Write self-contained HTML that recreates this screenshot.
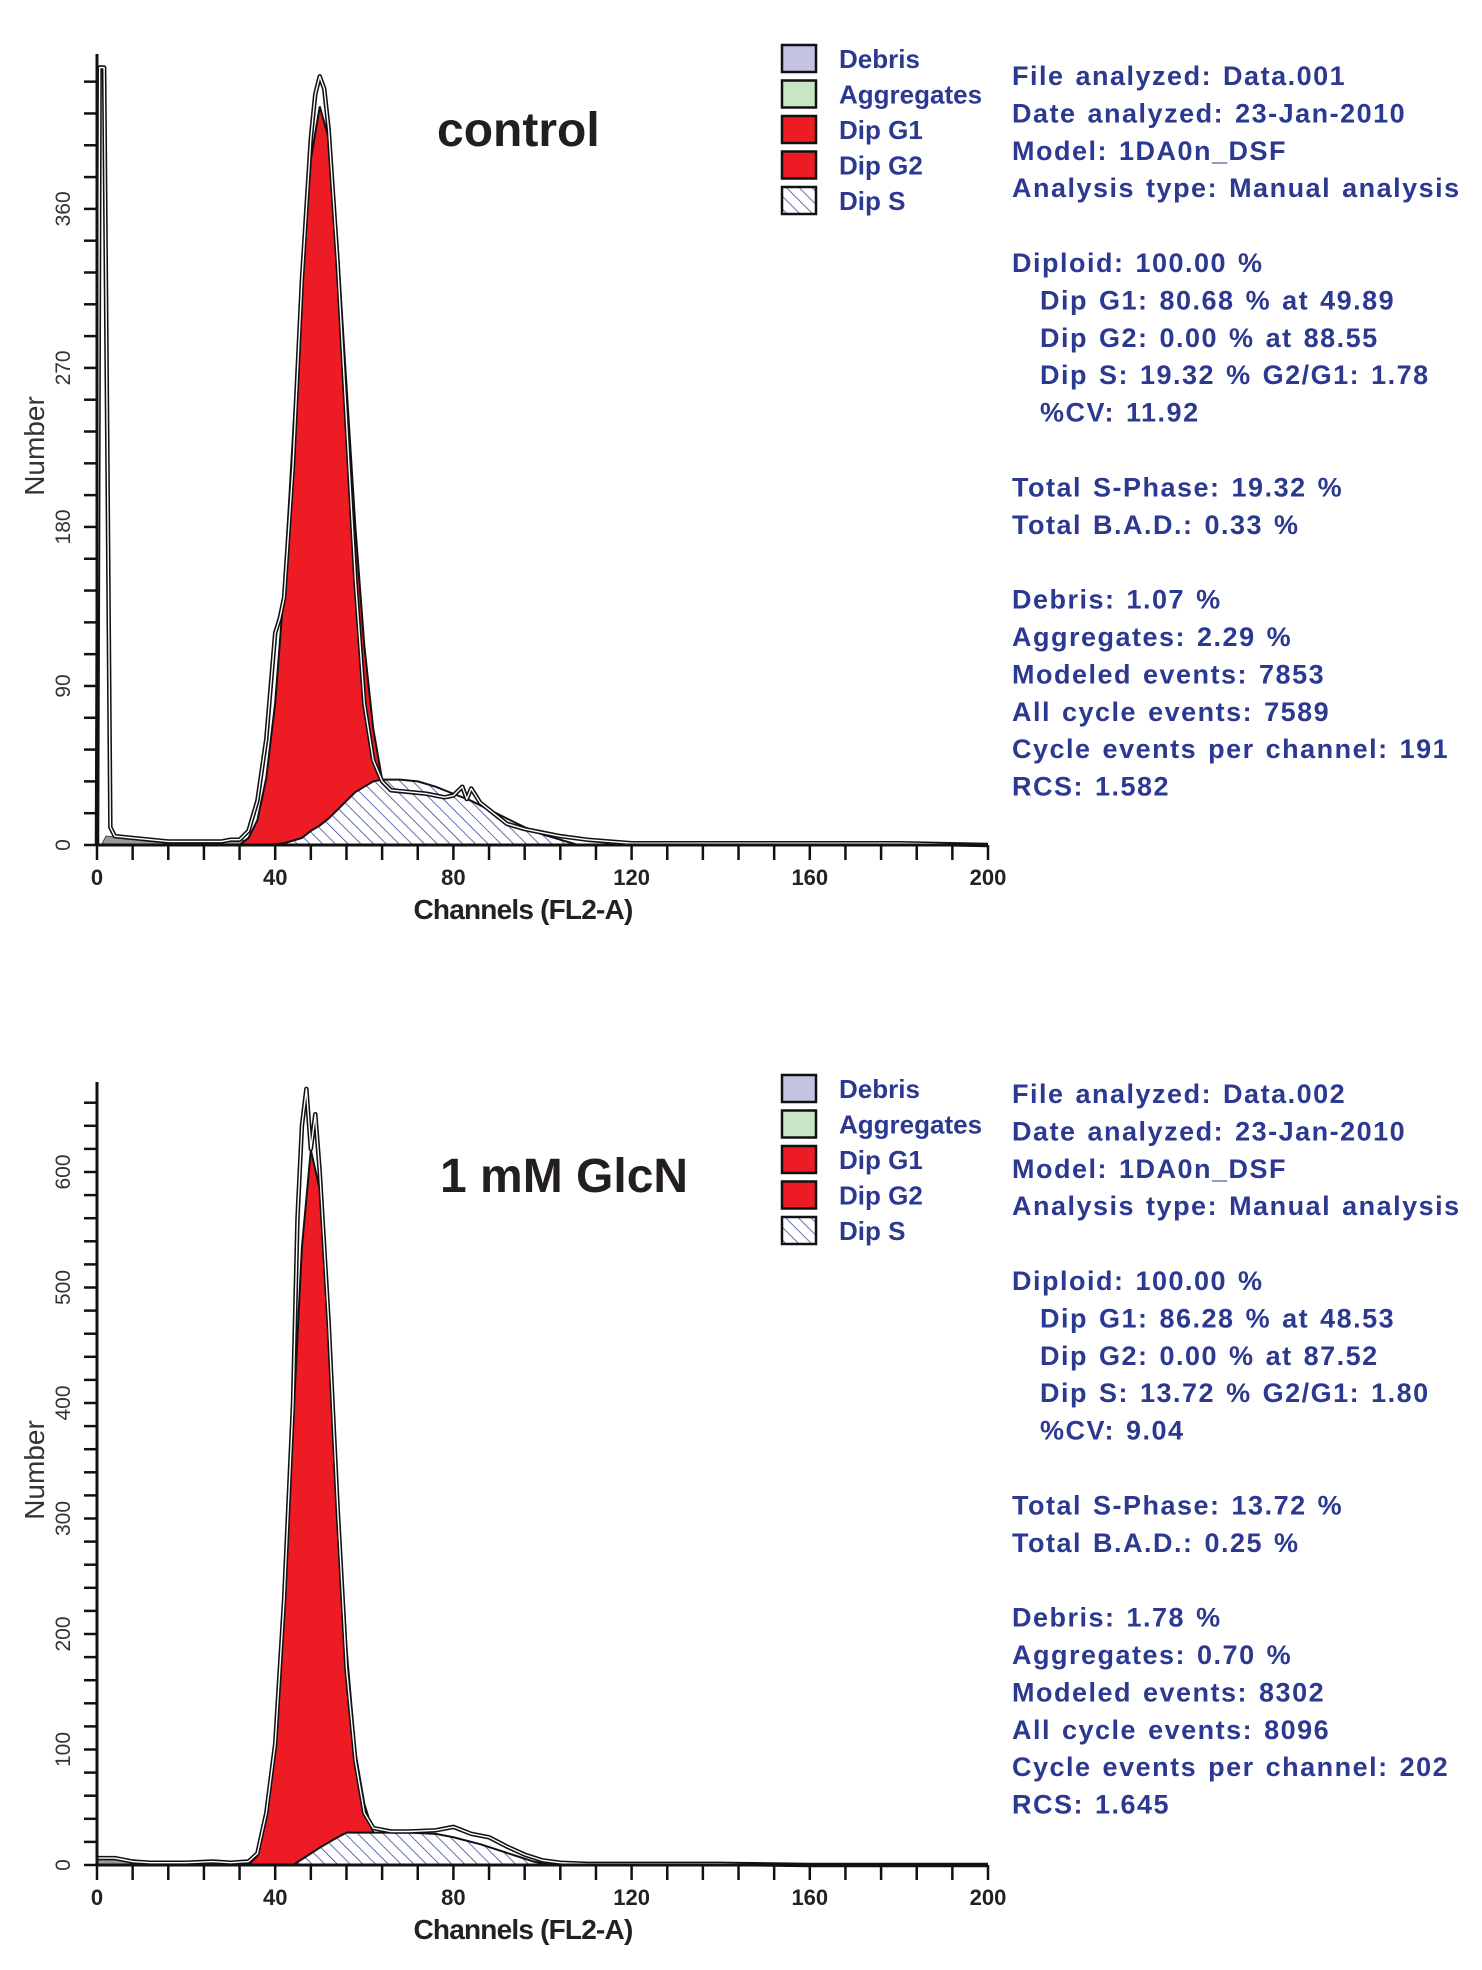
<!DOCTYPE html>
<html><head><meta charset="utf-8"><style>
html,body{margin:0;padding:0;background:#fff;}
svg{display:block;}
</style></head><body>
<svg id="fig" width="1482" height="1970" viewBox="0 0 1482 1970" xmlns="http://www.w3.org/2000/svg">
<defs>
<pattern id="hatch" patternUnits="userSpaceOnUse" width="9" height="9" patternTransform="rotate(-45)">
<rect width="9" height="9" fill="#fff"/>
<line x1="0" y1="0" x2="0" y2="9" stroke="#3d4b9e" stroke-width="1.6"/>
</pattern>
</defs>
</svg>
<script>
// ---- Control panel data ----
const ctrlChannels = [0,0.6,1.6,2.4,3,4,8,12,16,20,24,28,30,32,34,36,38,40,41,42,44,46,48,49,50,51,52,54,56,58,60,62,64,66,70,74,78,80,82,83,84,86,88,90,92,96,100,104,110,120,140,160,180,200];
const ctrlRaw =      [0,440,440,200,10,5,4,3,2,2,2,2,3,3,8,25,60,120,128,140,215,320,400,425,435,428,405,330,240,150,80,48,36,31,30,29,27,28,33,26,32,24,20,16,12,9,7,5,3,1,1,1,1,0];
const ctrlG1Ch = [32,34,36,38,40,42,44,46,48,50,52,54,56,58,60,62,64];
const ctrlG1 =   [0,4,14,38,80,145,230,315,380,407,385,320,235,150,80,30,0];
const ctrlSCh = [38,42,46,48,50,52,54,56,58,60,62,64,68,72,76,80,84,88,92,96,100,104,108];
const ctrlS =   [0,1,4,8,11,15,20,25,30,33,36,37,37,36,33,29,25,20,15,10,6,3,0];
const ctrlDebCh = [1,2,6,12,20,30,34,38,42];
const ctrlDeb =   [0,5,4,3,2,2,3,2,0];
const ctrlYTicks = [0,90,180,270,360];
// ---- GlcN panel data ----
const glcChannels = [0,4,8,12,20,26,30,34,36,38,40,42,44,45,46,47,48,49,50,52,54,56,58,60,62,66,70,76,80,84,88,92,96,100,104,110,120,140,160,200];
const glcRaw =      [6,6,3,2,2,3,2,3,10,45,105,230,400,560,640,672,620,650,600,470,310,170,90,45,32,29,29,30,33,27,24,16,9,4,2,1,1,1,0,0];
const glcG1Ch = [34,36,38,40,42,44,46,48,50,52,54,56,58,60,62];
const glcG1 =   [0,8,40,100,220,380,530,609,570,450,300,160,70,25,0];
const glcSCh = [44,46,50,54,56,60,70,76,80,86,90,94,98,102];
const glcS =   [0,5,15,24,28,28,28,27,24,18,13,8,3,0];
const glcDebCh = [0,4,8,12];
const glcDeb =   [5,5,2,0];
const glcYTicks = [0,100,200,300,400,500,600];
const xTicks = [0,40,80,120,160,200];

const svg = document.getElementById('fig');
const NS = 'http://www.w3.org/2000/svg';
function mk(tag, attrs, parent){const e=document.createElementNS(NS,tag);for(const k in attrs)e.setAttribute(k,attrs[k]);(parent||svg).appendChild(e);return e;}

function panel(p){
  const g = mk('g',{});
  
  
  const x0=97, x1=988, base=p.base;
  const sx = c => x0 + (c/200)*(x1-x0);
  const sy = v => base - v*p.k;
  const top = p.axisTop;
  const clampY = v => Math.max(top, sy(v));
  let d='M'+sx(p.debCh[0])+','+base;
  p.debCh.forEach((c,i)=>{d+=' L'+sx(c)+','+clampY(p.deb[i]);});
  d+=' L'+sx(p.debCh[p.debCh.length-1])+','+base+' Z';
  const deb=mk('path',{d:d,fill:'#9a9a9a',stroke:'#444','stroke-width':1},g);
  
  
  const sAt = c => { const ch=p.sCh, v=p.s; if(c<=ch[0]||c>=ch[ch.length-1])return 0; for(let i=1;i<ch.length;i++){if(c<=ch[i]){const t=(c-ch[i-1])/(ch[i]-ch[i-1]);return v[i-1]+t*(v[i]-v[i-1]);}} return 0;};
  d='M'+sx(p.g1Ch[0])+','+base;
  p.g1Ch.forEach((c,i)=>{d+=' L'+sx(c)+','+sy(p.g1[i]+sAt(c));});
  d+=' L'+sx(p.g1Ch[p.g1Ch.length-1])+','+base+' Z';
  const g1=mk('path',{d:d,fill:'#ed1c24',stroke:'#111','stroke-width':2},g);
  
  
  d='M'+sx(p.sCh[0])+','+base;
  p.sCh.forEach((c,i)=>{d+=' L'+sx(c)+','+sy(p.s[i]);});
  d+=' L'+sx(p.sCh[p.sCh.length-1])+','+base+' Z';
  const s=mk('path',{d:d,fill:'url(#hatch)',stroke:'#111','stroke-width':2},g);
  
  
  d='';
  p.ch.forEach((c,i)=>{d+=(i?' L':'M')+sx(c)+','+clampY(p.raw[i]);});
  const r1=mk('path',{d:d,fill:'none',stroke:'#111','stroke-width':4.5,'stroke-linejoin':'round'},g);
  
  
  const r2=mk('path',{d:d,fill:'none',stroke:'#fff','stroke-width':1.4,'stroke-linejoin':'round'},g);
  
  
  const ya=mk('line',{x1:x0,y1:top,x2:x0,y2:base,stroke:'#111','stroke-width':3},g);
  
  
  const xa=mk('line',{x1:x0,y1:base,x2:x1,y2:base,stroke:'#111','stroke-width':3},g);
  
  
  for(let c=0;c<=200;c+=8){
    const t=mk('line',{x1:sx(c),y1:base,x2:sx(c),y2:base+15,stroke:'#111','stroke-width':2.5},g);
    
    
  }
  xTicks.forEach(v=>{
    const t=mk('text',{x:sx(v),y:base+40,'text-anchor':'middle','font-family':'Liberation Sans, sans-serif','font-weight':'bold','font-size':22,fill:'#222'},g);
    t.textContent=v;
    
    
  });
  const xt=mk('text',{x:523,y:base+74,'text-anchor':'middle','font-family':'Liberation Sans, sans-serif','font-weight':'bold','font-size':28,'letter-spacing':-0.8,fill:'#222'},g);
  xt.textContent='Channels (FL2-A)';
  
  
  for(let v=0; sy(v)>=top+5; v+=p.minor){
    const t=mk('line',{x1:x0-13,y1:sy(v),x2:x0,y2:sy(v),stroke:'#111','stroke-width':2.5},g);
    
    
  }
  p.yTicks.forEach(v=>{
    const t=mk('text',{x:0,y:0,transform:'translate(70,'+sy(v)+') rotate(-90)','text-anchor':'middle','font-family':'Liberation Sans, sans-serif','font-size':21,fill:'#333'},g);
    t.textContent=v;
    
    
  });
  const yt=mk('text',{x:0,y:0,transform:'translate(44,'+p.numY+') rotate(-90)','text-anchor':'middle','font-family':'Liberation Sans, sans-serif','font-size':28,fill:'#333'},g);
  yt.textContent='Number';
  
  
  const tt=mk('text',{x:p.titleX,y:p.titleY,'font-family':'Liberation Sans, sans-serif','font-weight':'bold','font-size':48,fill:'#231f20'},g);
  tt.textContent=p.title;
  
  
  const leg=[['Debris','#c5c3e2'],['Aggregates','#c8e6c6'],['Dip G1','#ed1c24'],['Dip G2','#ed1c24'],['Dip S','url(#hatch)']];
  leg.forEach((l,i)=>{
    const cy=p.legY+i*35.5;
    const b=mk('rect',{x:782,y:cy-14,width:34,height:27,fill:l[1],stroke:'#111','stroke-width':2.5},g);
    
    
    const t=mk('text',{x:839,y:cy+9,'font-family':'Liberation Sans, sans-serif','font-weight':'bold','font-size':26,'letter-spacing':0,fill:'#2b3990'},g);
    t.textContent=l[0];
    
    
  });
  let row=0;
  p.lines.forEach(l=>{
    if(l===''){row++;return;}
    const ind = l.startsWith('>');
    const txt = ind? l.slice(1): l;
    const t=mk('text',{x: ind?1040:1012,y:p.textY+row*37.4+10,'font-family':'Liberation Sans, sans-serif','font-weight':'bold','font-size':27,'letter-spacing':1.5,'word-spacing':2,fill:'#2b3990','xml:space':'preserve'},g);
    t.textContent=txt;
    
    
    row++;
  });
}

panel({name:'control-panel',base:845,axisTop:54,k:1.767,minor:18,yTicks:ctrlYTicks,numY:446,title:'control',titleX:437,titleY:146,legY:59,textY:75,
  ch:ctrlChannels,raw:ctrlRaw,g1Ch:ctrlG1Ch,g1:ctrlG1,sCh:ctrlSCh,s:ctrlS,debCh:ctrlDebCh,deb:ctrlDeb,
  lines:['File analyzed: Data.001','Date analyzed: 23-Jan-2010','Model: 1DA0n_DSF','Analysis type: Manual analysis','',
  'Diploid: 100.00 %','>Dip G1: 80.68 % at 49.89','>Dip G2: 0.00 % at 88.55','>Dip S: 19.32 %   G2/G1: 1.78','>%CV: 11.92','',
  'Total S-Phase: 19.32 %','Total B.A.D.: 0.33 %','',
  'Debris: 1.07 %','Aggregates: 2.29 %','Modeled events: 7853','All cycle events: 7589','Cycle events per channel: 191','RCS: 1.582']});

panel({name:'glcn-panel',base:1865,axisTop:1082,k:1.155,minor:20,yTicks:glcYTicks,numY:1470,title:'1 mM GlcN',titleX:440,titleY:1192,legY:1089,textY:1093,
  ch:glcChannels,raw:glcRaw,g1Ch:glcG1Ch,g1:glcG1,sCh:glcSCh,s:glcS,debCh:glcDebCh,deb:glcDeb,
  lines:['File analyzed: Data.002','Date analyzed: 23-Jan-2010','Model: 1DA0n_DSF','Analysis type: Manual analysis','',
  'Diploid: 100.00 %','>Dip G1: 86.28 % at 48.53','>Dip G2: 0.00 % at 87.52','>Dip S: 13.72 %   G2/G1: 1.80','>%CV: 9.04','',
  'Total S-Phase: 13.72 %','Total B.A.D.: 0.25 %','',
  'Debris: 1.78 %','Aggregates: 0.70 %','Modeled events: 8302','All cycle events: 8096','Cycle events per channel: 202','RCS: 1.645']});
</script>
</body></html>
